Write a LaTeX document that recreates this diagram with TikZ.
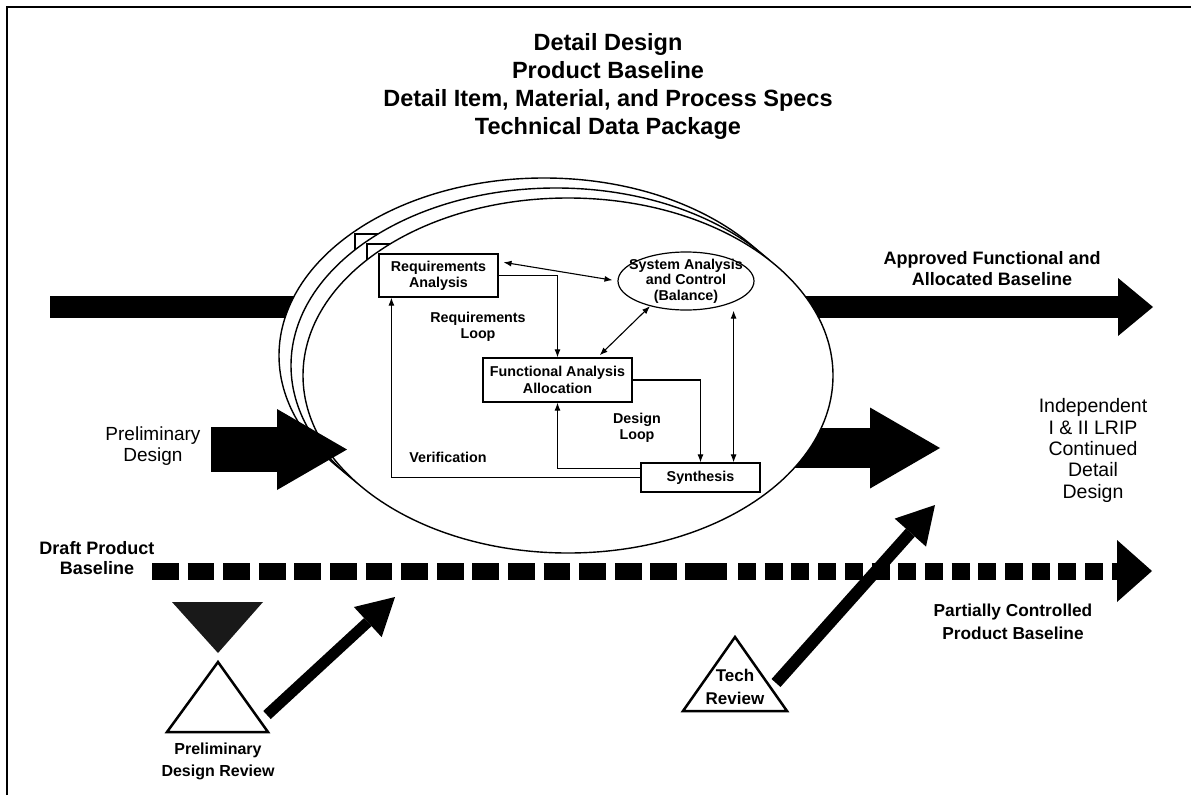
\documentclass[tikz,border=0pt]{standalone}
\usepackage{fontspec}
\setmainfont{Liberation Sans}
\usetikzlibrary{arrows.meta,positioning,calc,shapes.geometric}

\begin{document}
\begin{tikzpicture}[x=1pt, y=-1pt, >={Latex[length=8pt,width=6pt]}]
\tikzstyle{blk}=[draw, line width=1.2pt, fill=white, inner sep=0pt, align=center, font=\bfseries\fontsize{14.3}{16.3}\selectfont]
\tikzstyle{tag}=[align=center, font=\bfseries\fontsize{14.3}{16.3}\selectfont]
\tikzstyle{bigtag}=[align=center, font=\bfseries\fontsize{18}{21}\selectfont]
\tikzstyle{softtag}=[align=center, font=\fontsize{19}{21.5}\selectfont]
\tikzstyle{sheet}=[draw, line width=1.4pt, fill=white]
\tikzstyle{wire}=[line width=1.1pt]

\useasboundingbox (0,0) rectangle (1191,795);
\draw[line width=2pt] (7,795) -- (7,7) -- (1191,7);
\node[align=center, font=\bfseries\fontsize{23.5}{27.7}\selectfont] (title) at (608,86.5) {Detail Design\\Product Baseline\\Detail Item, Material, and Process Specs\\Technical Data Package};

% baseline arrows passing behind the loop
\coordinate (topin) at (50,307); \coordinate (topout) at (1153,307);
\coordinate (midin) at (700,448); \coordinate (midout) at (940,448);
\draw[line width=22pt, -{Triangle[length=35pt, width=58pt, line width=0pt]}] (topin) -- (topout);
\draw[line width=40pt, -{Triangle[length=70pt, width=81pt, line width=0pt]}] (midin) -- (midout);

% stacked iterations of the loop
\foreach \k in {2,1} {
  \draw[sheet] (568-12*\k,375.5-10*\k) ellipse [x radius=265, y radius=177.5];
  \node[blk, minimum width=119pt, minimum height=43pt] (ra\k) at (438.5-12*\k,275.5-10*\k) {};
}
\draw[sheet] (568,375.5) ellipse [x radius=265, y radius=177.5];

\node[blk, minimum width=119pt, minimum height=43pt] (ra) at (438.5,275.5) {Requirements\\Analysis};
\node[draw, ellipse, line width=1.2pt, minimum width=136pt, minimum height=58pt] (sac) at (686,281) {};
\node[tag, font=\bfseries\fontsize{14.3}{15.7}\selectfont] (sactext) at (sac) {System Analysis\\and Control\\(Balance)};
\node[blk, minimum width=149pt, minimum height=44pt] (fa) at (557.5,380) {Functional Analysis\\Allocation};
\node[blk, minimum width=119pt, minimum height=29pt] (syn) at (700.5,477.5) {Synthesis};
\coordinate (synr) at ([xshift=-27pt]syn.north east);

\draw[wire, <->, shorten <=5pt, shorten >=5pt] ([yshift=14pt]ra.east) -- (sac.west);
\draw[wire, ->] (ra.east) -| (fa.north);
\draw[wire, <->, shorten <=3pt] ([xshift=40pt]fa.north) -- (sac.215);
\draw[wire, ->] (fa.east) -| (syn.north);
\draw[wire, <->] (synr) -- (synr |- sac.south);
\draw[wire, ->] ([yshift=9pt]syn.west) -| (fa.south);
\draw[wire, ->] (syn.west) -| ([xshift=13pt]ra.south west);

\node[tag] (rloop) at (478,327) {Requirements\\Loop};
\node[tag] (dloop) at (637,428) {Design\\Loop};
\node[tag] (verif) at (448,457) {Verification};

% entry arrow and labels
\node[softtag] (prelim) at (153,446) {Preliminary\\Design};
\coordinate (prelimtip) at (347,449.5);
\draw[line width=45pt, -{Triangle[length=70pt, width=81pt, line width=0pt]}] (211,449.5) -- (prelimtip);
\node[bigtag] (afab) at (992,268.5) {Approved Functional and\\Allocated Baseline};
\node[softtag, font=\fontsize{19.5}{21.3}\selectfont] (indep) at (1093,450.5) {Independent\\I \& II LRIP\\Continued\\Detail\\Design};

% product baseline
\node[bigtag, font=\bfseries\fontsize{18}{20}\selectfont] (draft) at (97,558) {Draft Product\\Baseline};
\draw[line width=17pt, dash pattern=on 26.7pt off 8.9pt] (152,571) -- (677,571);
\draw[line width=17pt] (685,571) -- (727,571);
\draw[line width=17pt, dash pattern=on 18pt off 8.7pt, -{Triangle[length=35pt, width=62pt, line width=0pt]}] (738,571) -- (1152,571);
\node[bigtag, font=\bfseries\fontsize{17.3}{23}\selectfont] (pcpb) at (1013,621.5) {Partially Controlled\\Product Baseline};

% reviews
\fill[black!90] (172,602) -- (263,602) -- (218,653) -- cycle;
\draw[line width=2.5pt] (218,662) -- (268,732) -- (167,732) -- cycle;
\node[bigtag, font=\bfseries\fontsize{16}{22}\selectfont] (pdrtext) at (218,761) {Preliminary\\Design Review};
\coordinate (pdrfoot) at (267,715); \coordinate (pdrtip) at (395,597);
\draw[line width=11pt, -{Triangle[length=37pt, width=41pt, line width=0pt]}] (pdrfoot) -- (pdrtip);

\draw[line width=2.5pt] (735,637) -- (787,711) -- (683,711) -- cycle;
\node[bigtag, font=\bfseries\fontsize{17}{23}\selectfont] (tech) at (735,686.5) {Tech\\Review};
\coordinate (techfoot) at (776,683); \coordinate (techtip) at (935,505);
\draw[line width=12pt, -{Triangle[length=37pt, width=42pt, line width=0pt]}] (techfoot) -- (techtip);
\end{tikzpicture}
\end{document}
